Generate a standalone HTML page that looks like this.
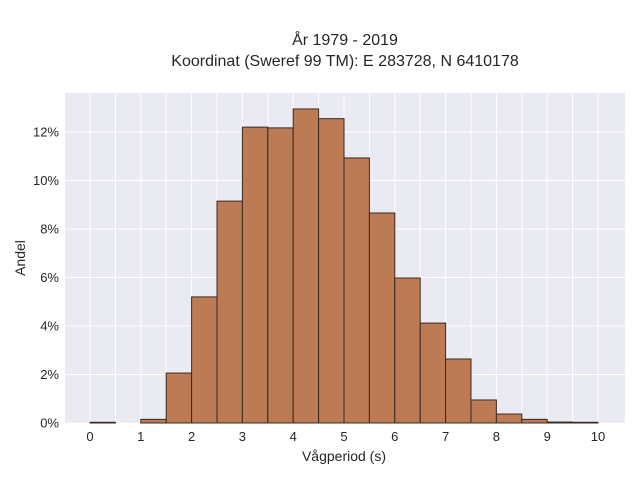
<!DOCTYPE html>
<html><head><meta charset="utf-8"><style>
body{margin:0;background:#fff;font-family:"Liberation Sans",sans-serif}
svg text{font-family:"Liberation Sans",sans-serif;fill:#262626}
</style></head><body>
<svg id="chart" width="640" height="480" xmlns="http://www.w3.org/2000/svg">
<text x="345" y="45" font-size="16" text-anchor="middle">År 1979 - 2019</text>
<text x="345" y="66" font-size="16" text-anchor="middle">Koordinat (Sweref 99 TM): E 283728, N 6410178</text>
<rect x="65" y="93" width="560" height="330" fill="#eaeaf2"/>
<g id="grid"></g><g id="bars"></g><g id="ticks"></g>
<text x="344" y="461" font-size="14" text-anchor="middle">Vågperiod (s)</text>
<text x="25" y="258" font-size="14" text-anchor="middle" transform="rotate(-90 25 258)">Andel</text>
</svg>
<script>
const binStarts=[0,0.5,1,1.5,2,2.5,3,3.5,4,4.5,5,5.5,6,6.5,7,7.5,8,8.5,9,9.5];
const shares=[0.03,0,0.15,2.06,5.2,9.15,12.2,12.17,12.95,12.55,10.93,8.66,5.98,4.12,2.64,0.95,0.37,0.15,0.04,0.03];
const xTicks=[0,1,2,3,4,5,6,7,8,9,10];
const yTicks=[0,2,4,6,8,10,12];
const binWidth=0.5;
const X=v=>90+v*50.8, Y=v=>423-v*24.25;
const NS="http://www.w3.org/2000/svg";
function mk(t,a,p){const e=document.createElementNS(NS,t);for(const k in a)e.setAttribute(k,a[k]);p.appendChild(e);return e;}
const grid=document.getElementById('grid'),bars=document.getElementById('bars'),ticks=document.getElementById('ticks');
for(let v=0;v<=10.001;v+=0.5){const l=mk('line',{x1:X(v),x2:X(v),y1:93,y2:423,stroke:'#fff','stroke-width':1},grid);

}
yTicks.forEach(v=>{const l=mk('line',{x1:65,x2:625,y1:Y(v),y2:Y(v),stroke:'#fff','stroke-width':1},grid);


const t=mk('text',{x:59,y:Y(v)+4.5,'font-size':13,'text-anchor':'end'},ticks);t.textContent=v+'%';

});
xTicks.forEach(v=>{const t=mk('text',{x:X(v),y:441,'font-size':13,'text-anchor':'middle'},ticks);t.textContent=v;

});
binStarts.forEach((s,i)=>{const h=shares[i];if(h<=0)return;
const r=mk('rect',{x:X(s),y:Y(h),width:X(s+binWidth)-X(s),height:Y(0)-Y(h),fill:'#bc7a55',stroke:'#3a2a22','stroke-width':1},bars);

});
</script>
</body></html>
